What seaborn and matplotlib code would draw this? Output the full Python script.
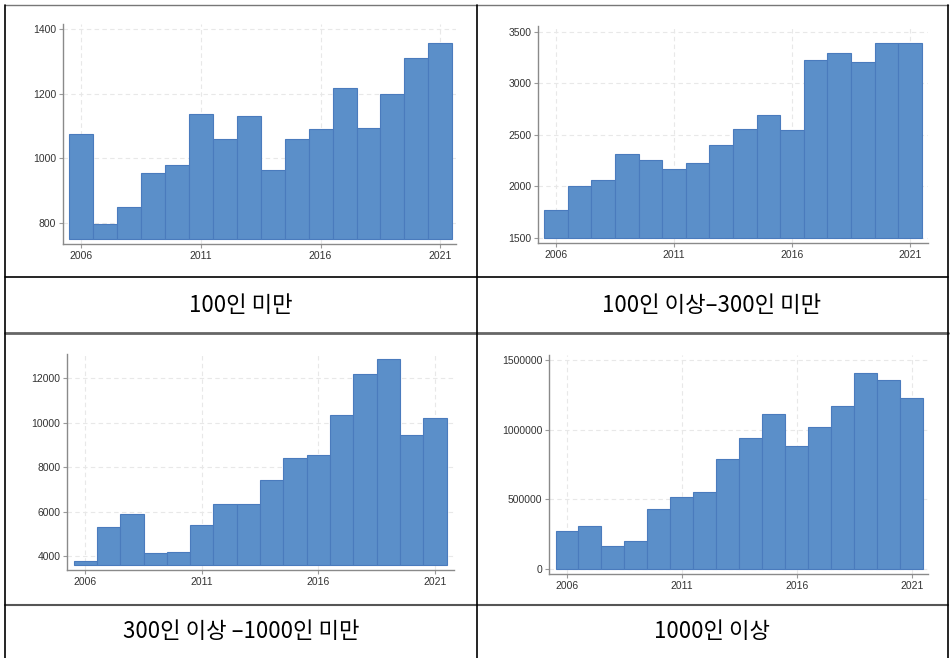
import numpy as np
import seaborn as sns
import matplotlib.pyplot as plt
from matplotlib.lines import Line2D

years = np.arange(2006, 2022)

# values per size group
under_100 = [1075, 797, 848, 955, 979, 1137, 1060, 1132, 964, 1060, 1089, 1219, 1093, 1199, 1311, 1358]
from_100_to_300 = [1772, 2005, 2057, 2309, 2257, 2164, 2225, 2400, 2555, 2694, 2549, 3225, 3290, 3209, 3387, 3390]
from_300_to_1000 = [3790, 5306, 5906, 4135, 4180, 5411, 6326, 6326, 7437, 8398, 8533, 10334, 12180, 12856, 9433, 10214]
over_1000 = [273600, 304800, 165600, 196800, 432000, 518400, 549600, 789600, 938400,
             1113600, 885600, 1020000, 1173600, 1406400, 1358400, 1228800]

captions = ["100인 미만", "100인 이상–300인 미만", "300인 이상 –1000인 미만", "1000인 이상"]
x_ticks = [2006, 2011, 2016, 2021]
y_ticks = [
    [800, 1000, 1200, 1400],
    [1500, 2000, 2500, 3000, 3500],
    [4000, 6000, 8000, 10000, 12000],
    [0, 500000, 1000000, 1500000],
]

W, H = 951, 658
# (left, right, top, bottom) in pixels, xlim, ylim, bar base
panels = [
    ((63.3, 456, 24, 244.3), (2005.27, 2021.65), (733, 1416), 750),
    ((538.3, 927.7, 26, 243.3), (2005.25, 2021.75), (1445, 3555), 1500),
    ((67.3, 454, 354.3, 570.3), (2005.23, 2021.82), (3355, 13080), 3610),
    ((549.3, 928.3, 355, 573.7), (2005.23, 2021.72), (-36000, 1538000), 0),
]
series = [under_100, from_100_to_300, from_300_to_1000, over_1000]

sns.set_theme(style="ticks")
plt.rcParams["font.family"] = ["Liberation Sans", "DejaVu Sans"]

fig = plt.figure(figsize=(W / 100, H / 100), dpi=100)
fig.patch.set_facecolor("white")

for (box, xlim, ylim, base), vals, yt in zip(panels, series, y_ticks):
    l, r, t, b = box
    ax = fig.add_axes([l / W, 1 - b / H, (r - l) / W, (b - t) / H])
    heights = np.array(vals) - base
    sns.barplot(x=years, y=heights, native_scale=True, width=1, errorbar=None,
                color="#5b8fc9", saturation=1, edgecolor="#4a7bbd", linewidth=0.8,
                bottom=base, ax=ax)
    ax.set_xlim(*xlim)
    ax.set_ylim(*ylim)
    ax.set_xticks(x_ticks)
    ax.set_yticks(yt)
    ax.set_xticklabels([str(v) for v in x_ticks])
    ax.set_yticklabels([str(v) for v in yt])
    ax.set_xlabel("")
    ax.set_ylabel("")
    ax.set_axisbelow(True)
    ax.grid(True, linestyle=(0, (4, 3)), color="#e8e8e8", linewidth=0.8)
    for side in ["top", "right"]:
        ax.spines[side].set_visible(False)
    for side in ["left", "bottom"]:
        ax.spines[side].set_color("#8a8a8a")
        ax.spines[side].set_linewidth(1.0)
    ax.tick_params(axis="both", labelsize=7.5, labelcolor="#333333", color="#9a9a9a",
                   length=3, width=0.8, pad=2)
    ax.set_facecolor("white")

# table frame
def hline(y, x0=4.5, x1=948, color="black", lw=1.2):
    fig.add_artist(Line2D([x0 / W, x1 / W], [1 - y / H, 1 - y / H], color=color, lw=lw))

def vline(x, y0=5, y1=H, color="black", lw=1.2):
    fig.add_artist(Line2D([x / W, x / W], [1 - y0 / H, 1 - y1 / H], color=color, lw=lw))

hline(5, color="#777777", lw=1.0)
hline(277)
hline(333, color="#666666", lw=2.0)
hline(604.5, color="#555555", lw=1.5)
vline(4.5)
vline(948)
vline(477)

cap_pos = [(241, 305), (712, 305), (241, 632), (712, 632)]
for (cx, cy), text in zip(cap_pos, captions):
    fig.text(cx / W, 1 - cy / H, text, ha="center", va="center", fontsize=16,
             family=["Noto Sans CJK KR", "DejaVu Sans"], color="black")

fig.savefig("out.png", dpi=100, facecolor="white")
